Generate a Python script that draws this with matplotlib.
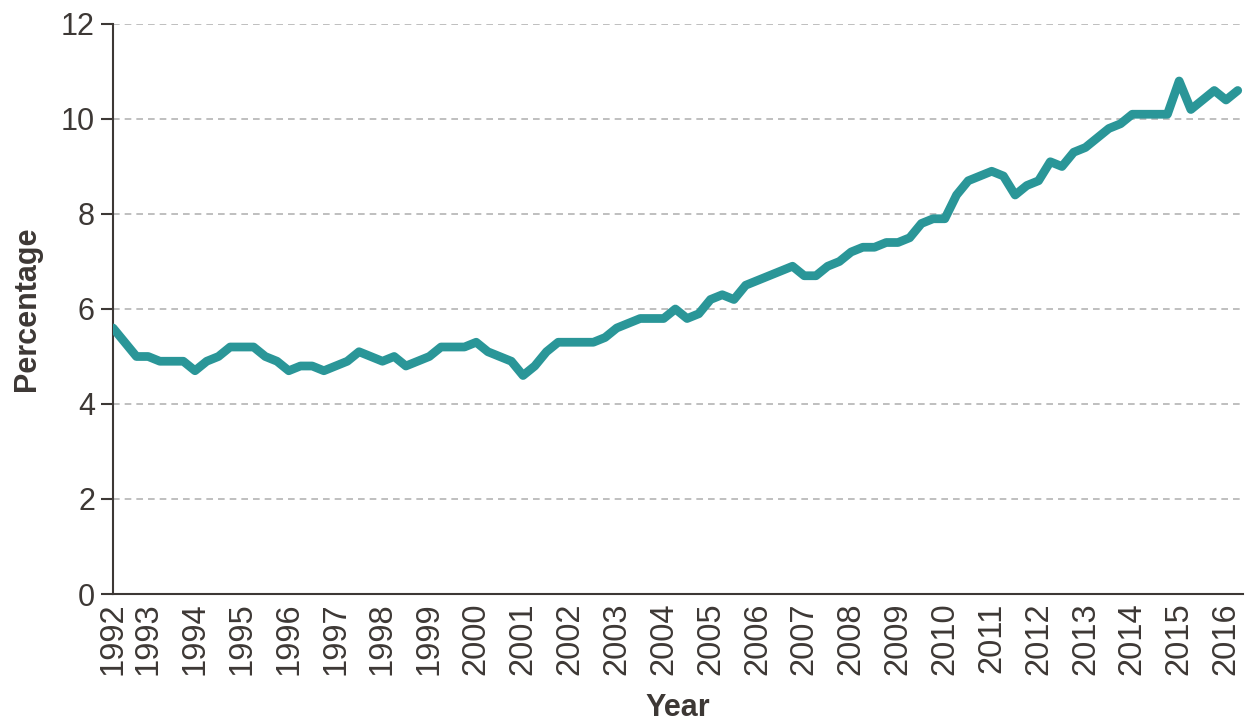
import matplotlib
matplotlib.use("Agg")
import matplotlib.pyplot as plt

# ── data: quarterly share, 1992 Q2 .. 2016 Q2 ───────────────────────────────
years = list(range(1992, 2017))
first_quarter = 2          # series begins in Q2 of 1992

pct_1992 = [5.6, 5.3, 5.0]
pct_1993 = [5.0, 4.9, 4.9, 4.9]
pct_1994 = [4.7, 4.9, 5.0, 5.2]
pct_1995 = [5.2, 5.2, 5.0, 4.9]
pct_1996 = [4.7, 4.8, 4.8, 4.7]
pct_1997 = [4.8, 4.9, 5.1, 5.0]
pct_1998 = [4.9, 5.0, 4.8, 4.9]
pct_1999 = [5.0, 5.2, 5.2, 5.2]
pct_2000 = [5.3, 5.1, 5.0, 4.9]
pct_2001 = [4.6, 4.8, 5.1, 5.3]
pct_2002 = [5.3, 5.3, 5.3, 5.4]
pct_2003 = [5.6, 5.7, 5.8, 5.8]
pct_2004 = [5.8, 6.0, 5.8, 5.9]
pct_2005 = [6.2, 6.3, 6.2, 6.5]
pct_2006 = [6.6, 6.7, 6.8, 6.9]
pct_2007 = [6.7, 6.7, 6.9, 7.0]
pct_2008 = [7.2, 7.3, 7.3, 7.4]
pct_2009 = [7.4, 7.5, 7.8, 7.9]
pct_2010 = [7.9, 8.4, 8.7, 8.8]
pct_2011 = [8.9, 8.8, 8.4, 8.6]
pct_2012 = [8.7, 9.1, 9.0, 9.3]
pct_2013 = [9.4, 9.6, 9.8, 9.9]
pct_2014 = [10.1, 10.1, 10.1, 10.1]
pct_2015 = [10.8, 10.2, 10.4, 10.6]
pct_2016 = [10.4, 10.6]

series = (pct_1992 + pct_1993 + pct_1994 + pct_1995 + pct_1996 + pct_1997
          + pct_1998 + pct_1999 + pct_2000 + pct_2001 + pct_2002 + pct_2003
          + pct_2004 + pct_2005 + pct_2006 + pct_2007 + pct_2008 + pct_2009
          + pct_2010 + pct_2011 + pct_2012 + pct_2013 + pct_2014 + pct_2015
          + pct_2016)

y_ticks = [0, 2, 4, 6, 8, 10, 12]

# ── style ───────────────────────────────────────────────────────────────────
TEAL = "#2a9698"
INK = "#3d3835"
GRID = "#b4b4b4"

plt.rcParams.update({
    "font.family": ["Liberation Sans", "DejaVu Sans"],
    "font.size": 22,
    "text.color": INK,
    "axes.labelcolor": INK,
    "xtick.color": INK,
    "ytick.color": INK,
})

fig = plt.figure(figsize=(12.45, 7.24), dpi=100)
ax = fig.add_axes([113 / 1245, 1 - 594 / 724, 1130 / 1245, 570 / 724])

x = list(range(len(series)))
ax.plot(x, series, color=TEAL, lw=6.3, solid_capstyle="round",
        solid_joinstyle="round", zorder=3)

# year labels sit on each Q1 (1992 on the first point)
tick_pos = [0] + [4 - first_quarter + 1 + 4 * (y - 1993) for y in years[1:]]
ax.set_xticks(tick_pos)
ax.set_xticklabels([str(y) for y in years], rotation=90, fontsize=23.5)
ax.tick_params(axis="x", length=0, pad=6)
ax.set_xlim(0, len(series) - 1 + 0.45)

ax.set_yticks(y_ticks)
ax.set_ylim(0, 12)
ax.tick_params(axis="y", length=9, width=1.5, pad=4)

ax.grid(axis="y", color=GRID, ls=(0, (4, 3)), lw=1.2)
ax.set_axisbelow(True)

for side in ("top", "right"):
    ax.spines[side].set_visible(False)
for side in ("left", "bottom"):
    ax.spines[side].set_color(INK)
    ax.spines[side].set_linewidth(1.5)

ax.set_ylabel("Percentage", fontweight="bold", va="center")
ax.yaxis.set_label_coords(-0.076, 0.5)
ax.set_xlabel("Year", fontweight="bold", va="center")
ax.xaxis.set_label_coords(0.5, -0.2)

fig.savefig("out.png", dpi=100)
